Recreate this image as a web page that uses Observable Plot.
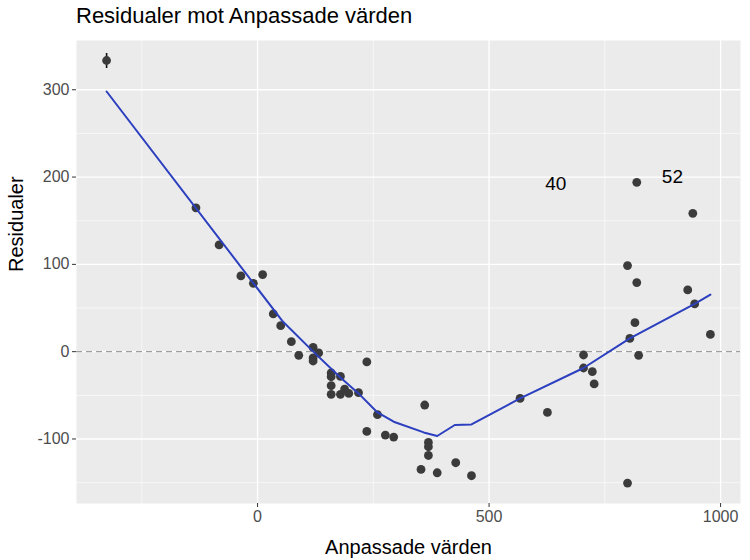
<!DOCTYPE html>
<html>
<head>
<meta charset="utf-8">
<script src="https://cdn.jsdelivr.net/npm/d3@7"></script>
<script src="https://cdn.jsdelivr.net/npm/@observablehq/plot@0.6"></script>
<style>
  body { margin: 0; background: #fff; font-family: "Liberation Sans", Arial, sans-serif; }
  #wrap { position: relative; width: 750px; height: 560px; }
  #title { position: absolute; left: 76px; top: 3px; font-size: 22px; color: #000; white-space: nowrap; }
</style>
</head>
<body>
<div id="wrap">
  <div id="title">Residualer mot Anpassade värden</div>
  <div id="chart"></div>
</div>
<script>
// Observations: fitted values and residuals
const fitted = [-326, -133, -83, -36, -9, 11, 34, 50, 73, 89, 120, 132, 120, 120, 236, 159, 159, 179, 159, 159, 179, 188, 197, 218, 259, 236, 276, 294, 361, 369, 369, 369, 353, 388, 428, 462, 567, 626, 704, 704, 723, 727, 799, 799, 819, 819, 815, 804, 823, 940, 929, 944, 978];
const residuals = [333.5, 164.7, 122.3, 86.8, 78.3, 88.3, 43.2, 29.8, 11.5, -4.2, 4.9, -1.5, -7.2, -10.7, -11.8, -24.4, -28.7, -28.3, -39, -48.9, -48.9, -42.8, -47.8, -47, -72.2, -91.3, -95.5, -97.8, -61.1, -104, -108.9, -118.9, -134.9, -138.7, -127.2, -142.1, -53.5, -69.6, -3.8, -18.7, -22.9, -37, -150.5, 98.6, 79.1, 194, 33.2, 15.2, -4.2, 158.5, 70.7, 54.7, 19.8];

// Smoothed (loess) curve
const smoothX = [-326, 53, 122, 179, 218, 259, 294, 359, 388, 426, 462, 567, 704, 804, 944, 978];
const smoothY = [298, 35.5, -0.8, -29.5, -47.8, -69.6, -80.2, -92.5, -96.6, -84, -83.3, -53.5, -18.7, 15.2, 54.7, 65.3];

// Vertical mark on the first observation
const markX = [-326];
const markY1 = [324.3];
const markY2 = [341.5];

// Labels of outlying observations
const labelText = ["40", "52"];
const labelX = [644, 896];
const labelY = [192.6, 200.6];

// Axis ticks and grid
const xTicks = [0, 500, 1000];
const xMinor = [-250, 250, 750];
const yTicks = [-100, 0, 100, 200, 300];
const yMinor = [-150, -50, 50, 150, 250];

const points = fitted.map((f, i) => ({f, r: residuals[i]}));
const smooth = smoothX.map((x, i) => ({x, y: smoothY[i]}));
const marks = markX.map((x, i) => ({x, y1: markY1[i], y2: markY2[i]}));
const labels = labelText.map((t, i) => ({t, x: labelX[i], y: labelY[i]}));

const chart = Plot.plot({
  width: 750,
  height: 560,
  marginLeft: 76,
  marginRight: 10,
  marginTop: 40,
  marginBottom: 57,
  style: {fontFamily: "'Liberation Sans', Arial, sans-serif", background: "transparent"},
  x: {domain: [-391, 1043]},
  y: {domain: [-173.9, 356.4]},
  marks: [
    Plot.frame({fill: "#EBEBEB", stroke: null}),
    Plot.ruleX(xMinor, {stroke: "#fff", strokeWidth: 0.6}),
    Plot.ruleY(yMinor, {stroke: "#fff", strokeWidth: 0.6}),
    Plot.ruleX(xTicks, {stroke: "#fff", strokeWidth: 1.3}),
    Plot.ruleY(yTicks, {stroke: "#fff", strokeWidth: 1.3}),
    Plot.ruleY([0], {stroke: "#8c8c8c", strokeWidth: 1, strokeDasharray: "6,4"}),
    Plot.axisX(xTicks, {tickSize: 4, tickPadding: 3, stroke: "#333", fontSize: 16, color: "#4d4d4d", label: null, tickFormat: d => String(d)}),
    Plot.axisY(yTicks, {tickSize: 4, tickPadding: 3, stroke: "#333", fontSize: 16, color: "#4d4d4d", label: null, tickFormat: d => String(d)}),
    Plot.text(["Anpassade värden"], {frameAnchor: "bottom", dy: 50, fontSize: 20, fill: "#000"}),
    Plot.text(["Residualer"], {frameAnchor: "left", dx: -60, rotate: -90, fontSize: 20, fill: "#000"}),
    Plot.ruleX(marks, {x: "x", y1: "y1", y2: "y2", stroke: "#111", strokeWidth: 1.6}),
    Plot.dot(points, {x: "f", y: "r", r: 4.4, fill: "#3b3b3b", stroke: null}),
    Plot.line(smooth, {x: "x", y: "y", stroke: "#2B3FBF", strokeWidth: 2}),
    Plot.text(labels, {x: "x", y: "y", text: "t", fontSize: 19, fill: "#000"})
  ]
});
document.getElementById("chart").appendChild(chart);
</script>
</body>
</html>
